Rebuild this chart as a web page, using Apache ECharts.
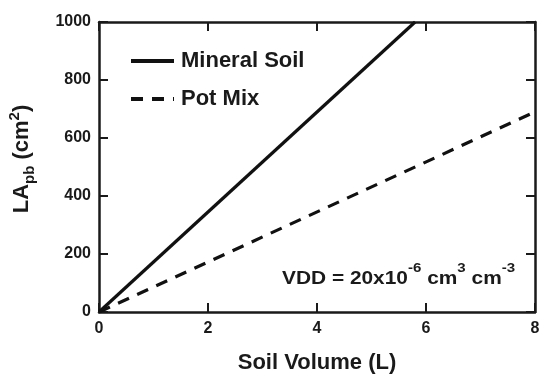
<!DOCTYPE html>
<html>
<head>
<meta charset="utf-8">
<script src="https://cdn.jsdelivr.net/npm/echarts@6/dist/echarts.min.js"></script>
<style>html,body{margin:0;padding:0;background:#fff}#c{width:539px;height:374px}</style>
</head>
<body>
<div id="c"></div>
<script>
const seriesNames = ['Mineral Soil', 'Pot Mix'];
const mineralX = [0, 5.8];
const mineralY = [0, 1000];
const potX = [0, 8];
const potY = [0, 690];
const xTicks = [0, 2, 4, 6, 8];
const yTicks = [0, 200, 400, 600, 800, 1000];

const F = 'Liberation Sans, Arial, sans-serif';
const C = '#1a1a1a';
const chart = echarts.init(document.getElementById('c'), null, {renderer: 'canvas'});
const axisLine = {show: true, onZero: false, lineStyle: {color: C, width: 2.5}};
const tick = {show: true, inside: true, length: 9, lineStyle: {color: C, width: 2}};
const lbl = {fontFamily: F, fontWeight: 'bold', fontSize: 16, color: C, formatter: v => String(v)};

chart.setOption({
  animation: false,
  grid: {left: 99, right: 4, top: 22, bottom: 62, containLabel: false, outerBoundsMode: 'none'},
  legend: {
    orient: 'vertical', left: 129, top: 50, padding: 0, itemWidth: 43, itemHeight: 24, itemGap: 16,
    itemStyle: {opacity: 0},
    lineStyle: {width: 4},
    textStyle: {fontFamily: F, fontWeight: 'bold', fontSize: 22, color: C, padding: [0, 0, 0, 2]},
    data: seriesNames
  },
  xAxis: [{
    type: 'value', min: xTicks[0], max: xTicks[xTicks.length - 1], interval: 2,
    name: 'Soil Volume (L)', nameLocation: 'middle', nameGap: 40,
    nameTextStyle: {fontFamily: F, fontWeight: 'bold', fontSize: 22, color: C},
    axisLine, axisTick: tick, axisLabel: Object.assign({margin: 9}, lbl), splitLine: {show: false}
  }, {
    type: 'value', position: 'top', min: 0, max: 8, interval: 2,
    axisLine, axisTick: tick, axisLabel: {show: false}, splitLine: {show: false}
  }],
  yAxis: [{
    type: 'value', min: yTicks[0], max: yTicks[yTicks.length - 1], interval: 200,
    name: '{a|LA}{b|pb}{a| (cm}{c|2}{a|)}', nameLocation: 'middle', nameGap: 62, nameRotate: 90,
    nameTextStyle: {
      padding: [0, 0, 0, 16],
      rich: {
        a: {fontFamily: F, fontWeight: 'bold', fontSize: 22, color: C, lineHeight: 30, verticalAlign: 'middle'},
        b: {fontFamily: F, fontWeight: 'bold', fontSize: 15, color: C, lineHeight: 30, verticalAlign: 'bottom'},
        c: {fontFamily: F, fontWeight: 'bold', fontSize: 15, color: C, lineHeight: 30, verticalAlign: 'top'}
      }
    },
    axisLine, axisTick: tick, axisLabel: Object.assign({margin: 8}, lbl), splitLine: {show: false}
  }, {
    type: 'value', position: 'right', min: 0, max: 1000, interval: 200,
    axisLine, axisTick: tick, axisLabel: {show: false}, splitLine: {show: false}
  }],
  graphic: [{
    type: 'text', x: 282, y: 262, scaleX: 1.16, z: 10,
    style: {
      text: '{a|VDD = 20x10}{s|-6}{a| cm}{s|3}{a| cm}{s|-3}',
      rich: {
        a: {fontFamily: F, fontWeight: 'bold', fontSize: 18, fill: C, lineHeight: 26, verticalAlign: 'bottom'},
        s: {fontFamily: F, fontWeight: 'bold', fontSize: 13, fill: C, lineHeight: 26, verticalAlign: 'top'}
      }
    }
  }],
  series: [{
    name: seriesNames[0], type: 'line', symbol: 'none', clip: true,
    lineStyle: {color: '#111', width: 3.2, type: 'solid'},
    itemStyle: {color: '#111'},
    data: mineralX.map((x, i) => [x, mineralY[i]])
  }, {
    name: seriesNames[1], type: 'line', symbol: 'none', clip: true,
    lineStyle: {color: '#111', width: 3.2, type: [12, 9]},
    itemStyle: {color: '#111'},
    data: potX.map((x, i) => [x, potY[i]])
  }]
});
</script>
</body>
</html>
